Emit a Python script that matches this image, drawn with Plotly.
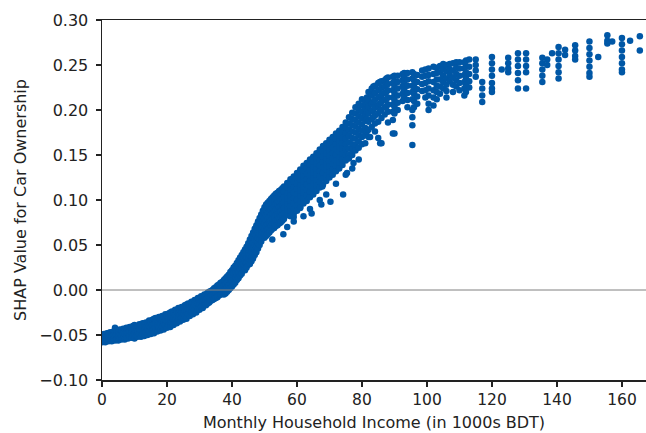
import plotly.graph_objects as go

# Each row: income (1000s BDT) followed by the SHAP values seen in that column
low_band = [
    [0, -0.050, -0.054, -0.058],
    [0.5, -0.049, -0.053, -0.057],
    [1, -0.051, -0.055, -0.058],
    [1.5, -0.048, -0.052, -0.056],
    [2, -0.048, -0.053, -0.057],
    [2.5, -0.047, -0.051, -0.056],
    [3, -0.049, -0.052, -0.057],
    [3.5, -0.046, -0.050, -0.055],
    [4, -0.042, -0.047, -0.052, -0.056],
    [4.5, -0.045, -0.050, -0.055],
    [5, -0.046, -0.051, -0.056],
    [5.5, -0.044, -0.049, -0.054],
    [6, -0.045, -0.050, -0.055],
    [6.5, -0.043, -0.048, -0.054],
    [7, -0.044, -0.049, -0.055],
    [7.5, -0.042, -0.047, -0.053],
    [8, -0.043, -0.048, -0.054],
    [8.5, -0.041, -0.046, -0.052],
    [9, -0.043, -0.048, -0.053],
    [9.5, -0.040, -0.045, -0.051],
    [10, -0.039, -0.044, -0.049, -0.054],
    [10.5, -0.041, -0.046, -0.051],
    [11, -0.040, -0.046, -0.052],
    [11.5, -0.038, -0.043, -0.049],
    [12, -0.039, -0.045, -0.052],
    [12.5, -0.037, -0.042, -0.048],
    [13, -0.038, -0.044, -0.051],
    [13.5, -0.036, -0.041, -0.047],
    [14, -0.037, -0.043, -0.050],
    [14.5, -0.034, -0.040, -0.046],
    [15, -0.035, -0.042, -0.049],
    [15.5, -0.033, -0.039, -0.045],
    [16, -0.032, -0.038, -0.043, -0.048],
    [16.5, -0.031, -0.037, -0.043],
    [17, -0.033, -0.039, -0.046],
    [17.5, -0.030, -0.036, -0.042],
    [18, -0.032, -0.038, -0.045],
    [18.5, -0.029, -0.035, -0.041],
    [19, -0.030, -0.036, -0.044],
    [19.5, -0.027, -0.033, -0.039],
    [20, -0.029, -0.035, -0.042],
    [20.5, -0.026, -0.032, -0.038],
    [21, -0.025, -0.030, -0.036, -0.041],
    [21.5, -0.024, -0.030, -0.036],
    [22, -0.026, -0.032, -0.039],
    [22.5, -0.022, -0.028, -0.034],
    [23, -0.024, -0.030, -0.037],
    [23.5, -0.020, -0.026, -0.032],
    [24, -0.022, -0.028, -0.035],
    [24.5, -0.019, -0.025, -0.031],
    [25, -0.020, -0.026, -0.033],
    [25.5, -0.017, -0.023, -0.029],
    [26, -0.016, -0.022, -0.028, -0.032],
    [26.5, -0.015, -0.021, -0.027],
    [27, -0.016, -0.022, -0.029],
    [27.5, -0.013, -0.019, -0.025],
    [28, -0.014, -0.020, -0.027],
    [28.5, -0.011, -0.017, -0.023],
    [29, -0.012, -0.018, -0.025],
    [29.5, -0.009, -0.015, -0.021],
    [30, -0.010, -0.016, -0.022],
    [30.5, -0.007, -0.013, -0.019],
    [31, -0.007, -0.013, -0.020],
    [31.5, -0.005, -0.011, -0.017],
    [32, -0.005, -0.011, -0.017],
    [32.5, -0.003, -0.009, -0.015],
    [33, -0.002, -0.008, -0.014],
    [33.5, -0.001, -0.007, -0.012],
]

rise_band = [
    [34, 0.000, -0.006, -0.011],
    [34.5, 0.002, -0.004, -0.010],
    [35, 0.003, -0.003, -0.009],
    [35.5, 0.005, -0.001, -0.008],
    [36, 0.006, 0.000, -0.006],
    [36.5, 0.008, 0.002, -0.005],
    [37, 0.009, 0.003, -0.003],
    [37.5, 0.011, 0.005, -0.001, -0.005],
    [38, 0.013, 0.007, 0.001, -0.004],
    [38.5, 0.015, 0.009, 0.003, -0.002],
    [39, 0.017, 0.011, 0.005, 0.000],
    [39.5, 0.020, 0.014, 0.008, 0.002],
    [40, 0.022, 0.016, 0.010, 0.004],
    [40.5, 0.025, 0.019, 0.012, 0.006],
    [41, 0.027, 0.021, 0.014, 0.008],
    [41.5, 0.030, 0.024, 0.017, 0.011],
    [42, 0.033, 0.027, 0.020, 0.013],
    [42.5, 0.036, 0.030, 0.023, 0.016],
    [43, 0.039, 0.032, 0.025, 0.018],
    [43.5, 0.042, 0.036, 0.029, 0.022],
    [44, 0.045, 0.039, 0.032, 0.026, 0.022],
    [44.5, 0.048, 0.042, 0.036, 0.030, 0.025],
    [45, 0.052, 0.046, 0.040, 0.034, 0.028],
    [45.5, 0.056, 0.050, 0.044, 0.038, 0.032, 0.029],
    [46, 0.060, 0.054, 0.048, 0.042, 0.036, 0.032],
    [46.5, 0.064, 0.058, 0.052, 0.046, 0.040, 0.035],
    [47, 0.068, 0.062, 0.056, 0.050, 0.044, 0.039],
    [47.5, 0.072, 0.066, 0.060, 0.054, 0.048, 0.042],
    [48, 0.076, 0.070, 0.064, 0.058, 0.052, 0.046],
    [48.5, 0.080, 0.074, 0.068, 0.062, 0.056, 0.050],
    [49, 0.084, 0.078, 0.072, 0.066, 0.060, 0.054],
    [49.5, 0.088, 0.082, 0.076, 0.070, 0.064, 0.058],
    [50, 0.092, 0.086, 0.080, 0.074, 0.068, 0.062, 0.058],
    [50.5, 0.095, 0.089, 0.083, 0.077, 0.071, 0.065, 0.060],
    [51, 0.097, 0.091, 0.085, 0.079, 0.073, 0.067, 0.062],
    [51.5, 0.099, 0.093, 0.087, 0.081, 0.075, 0.069, 0.064],
    [52, 0.101, 0.095, 0.089, 0.083, 0.077, 0.071, 0.066],
    [52.5, 0.103, 0.097, 0.091, 0.085, 0.079, 0.073, 0.068],
    [53, 0.105, 0.099, 0.093, 0.087, 0.081, 0.075, 0.069],
    [53.5, 0.107, 0.101, 0.095, 0.089, 0.083, 0.077, 0.071],
    [54, 0.108, 0.102, 0.096, 0.090, 0.084, 0.078, 0.072],
    [54.5, 0.110, 0.104, 0.098, 0.092, 0.086, 0.080, 0.074],
    [55, 0.111, 0.105, 0.099, 0.093, 0.087, 0.081, 0.075],
    [55.5, 0.113, 0.107, 0.101, 0.095, 0.089, 0.083, 0.077],
]

mid_band = [
    [56, 0.115, 0.109, 0.103, 0.097, 0.091, 0.085, 0.079],
    [57, 0.119, 0.113, 0.107, 0.101, 0.095, 0.089, 0.083, 0.070],
    [58, 0.123, 0.117, 0.111, 0.105, 0.099, 0.093, 0.087, 0.082],
    [59, 0.126, 0.120, 0.114, 0.108, 0.102, 0.096, 0.090, 0.085, 0.076],
    [60, 0.130, 0.124, 0.118, 0.112, 0.106, 0.100, 0.094, 0.088],
    [61, 0.134, 0.128, 0.122, 0.116, 0.110, 0.104, 0.098, 0.092],
    [62, 0.138, 0.132, 0.126, 0.120, 0.114, 0.108, 0.102, 0.096, 0.082],
    [63, 0.141, 0.135, 0.129, 0.123, 0.117, 0.111, 0.105, 0.099],
    [64, 0.145, 0.139, 0.133, 0.127, 0.121, 0.115, 0.109, 0.103, 0.090],
    [65, 0.148, 0.142, 0.136, 0.130, 0.124, 0.118, 0.112, 0.106],
    [66, 0.152, 0.146, 0.140, 0.134, 0.128, 0.122, 0.116, 0.110],
    [67, 0.156, 0.150, 0.144, 0.138, 0.132, 0.126, 0.120, 0.114, 0.100],
    [68, 0.160, 0.154, 0.148, 0.142, 0.136, 0.130, 0.124, 0.117],
    [69, 0.163, 0.157, 0.151, 0.145, 0.139, 0.133, 0.127, 0.121, 0.106],
    [70, 0.167, 0.161, 0.155, 0.149, 0.143, 0.137, 0.131, 0.125],
    [71, 0.170, 0.164, 0.158, 0.152, 0.146, 0.140, 0.134, 0.128],
    [72, 0.174, 0.168, 0.162, 0.156, 0.150, 0.144, 0.138, 0.132, 0.118],
    [73, 0.177, 0.171, 0.165, 0.159, 0.153, 0.147, 0.141, 0.135],
    [74, 0.181, 0.175, 0.169, 0.163, 0.157, 0.151, 0.145, 0.139],
    [75, 0.186, 0.180, 0.174, 0.168, 0.162, 0.156, 0.150, 0.144, 0.128],
    [76, 0.192, 0.185, 0.178, 0.171, 0.164, 0.157, 0.150, 0.146],
    [77, 0.197, 0.190, 0.183, 0.176, 0.169, 0.162, 0.156, 0.150, 0.135],
    [78, 0.203, 0.196, 0.189, 0.182, 0.175, 0.168, 0.161, 0.155],
    [79, 0.207, 0.200, 0.193, 0.186, 0.179, 0.172, 0.165, 0.158, 0.145],
    [80, 0.212, 0.205, 0.198, 0.191, 0.184, 0.177, 0.170, 0.162],
]

high_band = [
    [81, 0.209, 0.202, 0.195, 0.188, 0.180, 0.172, 0.163],
    [81.5, 0.214, 0.206, 0.198, 0.190, 0.176],
    [82, 0.220, 0.212, 0.204, 0.196, 0.187, 0.178, 0.170],
    [83, 0.224, 0.216, 0.207, 0.199, 0.190, 0.181],
    [83.5, 0.226, 0.218, 0.209, 0.200, 0.192],
    [84, 0.227, 0.219, 0.211, 0.203, 0.194, 0.185, 0.176],
    [85, 0.230, 0.222, 0.214, 0.205, 0.196, 0.187, 0.169],
    [85.5, 0.231, 0.223, 0.215, 0.207, 0.199],
    [86, 0.232, 0.225, 0.217, 0.209, 0.200, 0.191, 0.163],
    [87, 0.233, 0.226, 0.219, 0.211, 0.203, 0.195],
    [87.5, 0.235, 0.228, 0.220, 0.212, 0.204],
    [88, 0.236, 0.229, 0.222, 0.214, 0.206, 0.198, 0.186],
    [89.5, 0.237, 0.230, 0.222, 0.214, 0.206, 0.198, 0.189, 0.174],
    [90, 0.238, 0.232, 0.226, 0.219, 0.211, 0.204, 0.196],
    [91, 0.238, 0.231, 0.224, 0.216, 0.208, 0.200],
    [92.5, 0.240, 0.233, 0.226, 0.218, 0.210],
    [93, 0.241, 0.236, 0.229, 0.222, 0.214],
    [94, 0.241, 0.234, 0.227, 0.219, 0.211, 0.203],
    [95.5, 0.242, 0.235, 0.227, 0.220, 0.212, 0.200, 0.192, 0.183, 0.161],
    [96, 0.240, 0.233, 0.226, 0.218, 0.210, 0.203],
    [97, 0.239, 0.231, 0.223, 0.215, 0.207],
    [98.5, 0.244, 0.237, 0.229, 0.221],
    [99.5, 0.245, 0.238, 0.230, 0.222, 0.214],
    [100.5, 0.246, 0.239, 0.232, 0.224, 0.216, 0.207, 0.200],
    [102, 0.248, 0.240, 0.231, 0.222, 0.214, 0.205],
    [103, 0.247, 0.241, 0.234, 0.227, 0.220, 0.212],
    [104, 0.249, 0.242, 0.234, 0.226, 0.218],
    [105, 0.251, 0.245, 0.238, 0.231, 0.224],
    [106, 0.250, 0.243, 0.235, 0.228, 0.221, 0.214],
    [107, 0.251, 0.245, 0.239, 0.232],
    [108, 0.252, 0.244, 0.236, 0.228, 0.220],
    [109, 0.253, 0.247, 0.240, 0.233, 0.226],
    [110, 0.253, 0.246, 0.238, 0.230, 0.222],
    [111.5, 0.253, 0.246, 0.239, 0.231, 0.224, 0.216],
    [112, 0.255, 0.249, 0.242, 0.235, 0.228, 0.220],
    [113, 0.256, 0.248, 0.240, 0.232, 0.225],
    [115, 0.256, 0.250, 0.244, 0.237],
    [117, 0.231, 0.224, 0.216, 0.209],
    [120, 0.259, 0.252, 0.245, 0.238, 0.230, 0.224, 0.220],
    [123, 0.245],
    [125, 0.258, 0.252, 0.246, 0.242],
    [128, 0.263, 0.256, 0.249, 0.241, 0.233, 0.224],
    [130.5, 0.263, 0.256, 0.249, 0.242, 0.224],
    [135.5, 0.258, 0.252, 0.245, 0.238, 0.231],
    [137, 0.256, 0.250],
    [138.5, 0.263],
    [140.5, 0.270, 0.263, 0.256, 0.249, 0.242, 0.235],
    [142.5, 0.267, 0.261],
    [145.6, 0.272, 0.266, 0.260, 0.256],
    [150, 0.276, 0.269, 0.262, 0.255, 0.248, 0.241, 0.237],
    [152.7, 0.259],
    [155.5, 0.283, 0.277, 0.274],
    [157, 0.276],
    [160, 0.280, 0.273, 0.266, 0.259, 0.252, 0.245, 0.242],
    [162.5, 0.277],
    [165.5, 0.282, 0.266],
]

outlier_income = [52.4, 55.8, 59.0, 61.0, 64.5, 67.5, 67.8, 70.3, 74.2, 75.4, 77.4, 82.5, 85.6, 90.0]
outlier_shap = [0.056, 0.062, 0.081, 0.091, 0.085, 0.095, 0.115, 0.098, 0.106, 0.130, 0.141, 0.170, 0.163, 0.174]

x_ticks = [0, 20, 40, 60, 80, 100, 120, 140, 160]
y_ticks = [-0.10, -0.05, 0.00, 0.05, 0.10, 0.15, 0.20, 0.25, 0.30]

income, shap = [], []
for band in (low_band, rise_band, mid_band, high_band):
    for row in band:
        for v in row[1:]:
            income.append(row[0])
            shap.append(v)
income += outlier_income
shap += outlier_shap

FONT = "DejaVu Sans"
INK = "#222222"
fig = go.Figure()
fig.add_trace(go.Scatter(
    x=income, y=shap, mode="markers",
    marker=dict(color="#0057a6", size=6.5, line=dict(width=0)),
    showlegend=False, hoverinfo="skip",
))

# reference line at SHAP = 0
fig.add_shape(type="line", xref="paper", x0=0, x1=1, yref="y", y0=0, y1=0,
              line=dict(color="#808080", width=1), layer="above")

fig.update_layout(
    width=646, height=433,
    margin=dict(l=102, r=0, t=20, b=53),
    paper_bgcolor="white", plot_bgcolor="white",
    font=dict(family=FONT, size=16, color=INK),
)
fig.update_xaxes(
    range=[0, 167.4], tickvals=x_ticks, ticktext=[str(v) for v in x_ticks],
    showgrid=False, zeroline=False, automargin=False,
    showline=True, linecolor=INK, linewidth=1.5, mirror=True,
    ticks="outside", ticklen=5, tickwidth=1.2, tickcolor=INK,
    tickfont=dict(size=15.5),
    title=dict(text="Monthly Household Income (in 1000s BDT)", font=dict(size=16), standoff=8),
)
fig.update_yaxes(
    range=[-0.10, 0.30], tickvals=y_ticks,
    ticktext=[f"{v:.2f}".replace("-", "\u2212") for v in y_ticks],
    showgrid=False, zeroline=False, automargin=False,
    showline=True, linecolor=INK, linewidth=1.5,
    ticks="outside", ticklen=5, tickwidth=1.2, tickcolor=INK,
    tickfont=dict(size=16), ticklabelstandoff=4,
    title=dict(text="SHAP Value for Car Ownership", font=dict(size=16), standoff=8),
)

fig.write_html(
    "out.html",
    config={"displayModeBar": False, "staticPlot": True},
    post_script="document.body.style.margin='0';document.body.style.overflow='hidden';",
)
